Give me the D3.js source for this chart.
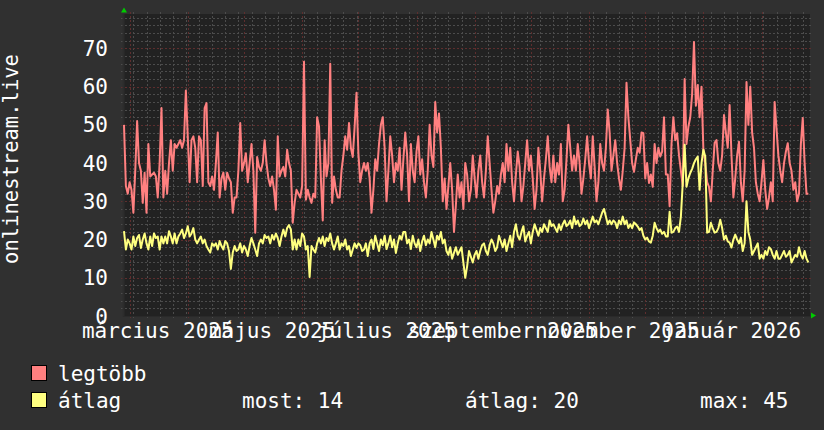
<!DOCTYPE html>
<html><head><meta charset="utf-8">
<script src="https://cdn.jsdelivr.net/npm/d3@7"></script>
<style>html,body{margin:0;padding:0;background:#303030;}svg{display:block;}text{font-family:"DejaVu Sans Mono",monospace;}</style>
</head><body><svg id="chart" width="824" height="430"></svg>
<script>
// ---- data (one value per day, starting at startDate) ----
const startDate = [2025, 1, 26];
const endDate = [2026, 1, 26];
const legtobb = [
50,34,32,35,33,27,38,51,40,38,
29.6,37.5,27,45,36.5,37,37.5,36.5,31,40,
54.4,31,38,32,40,46,38,45,44,45,
46,44,46,59,47,35,46,47,44,35,
47,46,34,54.4,55.7,35,34,36.5,33,40,
48,31,36,37.5,33,37.5,36,35,27,31,
31,38,50.5,38,40,42.6,35,40,45,38,
21.8,41.6,39,38,40,46,40,36,34,36.5,
33,27.8,47,36.5,38,39,36.5,43.5,40,38,
24.4,29.6,33,32,31,34,66.5,30.4,33,31,
29.6,32,31,52,49.6,36,25,46,36.5,40,
66,29.6,36.5,33,31,31,38,42,47,43.5,
50.5,44,41.6,49.5,58.4,42.6,35,38,40,38,
40,36,27,33,41,38,45,50,52,44,
30,38,47,42,35,40,38,44,33,41,
48,42,30,45,38,35,43,47,37,41,
35,31,38,50,42,39,56,48,53,44,
30,36,28,34,40,33,22,29,37,31,
35,28,40,37,30,33,42,36,31,38,
42,35,31,38,47,40,33,27,30,34,
32,37,40,35,45,38,44,35,30,37,
43,39,30,34,40,46,38,42,36,28,
33,44,38,30,36,41,47,39,35,42,
35,40,37,45,30,33,41,50,44,38,
42,38,45,40,32,36,41,47,40,36,
47,39,30,35,45,40,38,44,54,48,
38,42,46,40,36,33,38,44,61,52,
46,40,37.7,41,44,42.7,48,47.8,36,40,
34.8,37,33.8,45,40,44,41.7,43,52,37,
37,28.7,45,52,46,47.8,42,38,34,62,
45,49.5,52,58,71.7,55,60.4,52,60,43.5,
40,35,33.8,30,38,45.3,46,40,38,42,
52.6,48,44,55.2,42,31,36,42,45.6,35,
30,38,61.2,50,60,48,44,35,32,30,
35,40.8,33,28,31,35,30,56,49,42,
38,35,40,43,45.2,40,38,33,35,30,
32,45,51.8,40,32,32
];
const atlag = [
22.2,17.4,20,19,17.4,20.8,18.3,20.4,21.2,17.8,
20,21.6,19,17.4,20.8,18.3,21.6,20.4,20.8,17.4,
20.8,19,20.8,19,22.2,20.8,19,21.6,19,20.8,
21.6,22.6,20.4,21.6,23.5,20.8,21.6,23,20,19,
20,20.8,19,20,18.3,17.4,16.6,19,18.3,19,
17.4,19.6,18.3,17.4,19.6,19,17,12.3,16.6,18.3,
17,17.4,19,16.6,18.3,17.4,15.7,18.3,20.4,19,
17.4,15.7,19,20,19,21.2,20.4,20.8,19,21.2,
20,21.6,20.4,18.3,20.8,22.6,20.8,23,23.8,22.6,
17.4,20,17.4,20,18.3,21.6,20.8,17.4,18.3,10.2,
18.3,17.4,16.6,19,20.4,19,20.8,18.3,20.4,19.6,
21.6,19,17.4,19,20.8,17.4,19,18.3,20,17.4,
18.3,15.7,17.4,19,17.8,19,18.5,17,17.4,19,
15.7,19,20,17.5,21,19,17,20,18.5,21,
17.5,19,21,18,20,16.5,19,21,20,22,
22,19,20,17.5,21,19,18,20,17,19.5,
21,18.5,20,19,22,20,18,21,20,22,
19,20,17,16,18,15,16.5,18,16,17,
18,14,10,13,17,15.5,14,16,17,15,
17,18.5,19,17,16,18.5,20,19,17,18,
21,19.5,18,20,17,19,21,18,22,24,
21,20,22,23.5,19.5,21,22,19,22,24,
22.5,21,23,22,24,23,22,25,23.5,24,
23,22,24,22.5,24,25,23.5,24,25,23,
26,24,25,23.5,24,25.5,24,25,23,24.5,
26,24.5,25,24,25.5,27,28,26,24,25,
24,25,24.5,23,25,24,26,24,25,23,
24,23,24.5,24,23.4,22.5,23,21,20,20.5,
19.5,19.2,21,24.4,23,22,22.6,21.5,22,20.8,
20.8,27.3,21.8,22,23,23.4,22,26,34.8,44.8,
33.8,36,37.4,38.5,40,41,41.7,33,40,43.5,
41.7,21.8,22,24.4,23,21.8,22,23,25.2,23,
20,21,19.5,19.2,17.9,20,21.3,20,19,20.5,
17,19,30,22,20,16,17,18,19,15,
16,15,17,16,18,17.5,16,15,17,15,
15,16,17,15.5,16,17,14,15,16,15.5,
18,16,15,17,15,14
];
const seriesNames = ["legtöbb", "átlag"];
const yTicks = [0, 10, 20, 30, 40, 50, 60, 70];
const yMax = 79;
const monthLabels = ["március 2025", "május 2025", "július 2025", "szeptember 2025", "november 2025", "január 2026"];
const labelMonths = [[2025, 2], [2025, 4], [2025, 6], [2025, 8], [2025, 10], [2026, 0]];
const legendStats = [["most", 14], ["átlag", 20], ["max", 45]];
const yTitle = "onlinestream.live";

// ---- layout ----
const svg = d3.select("#chart");
const P = {l: 123, r: 810, t: 14, b: 316};
const colors = ["#ff8080", "#ffff80"];
const t0 = Date.UTC(...startDate), t1 = Date.UTC(...endDate);
const x = d3.scaleUtc().domain([t0, t1]).range([124, 124 + 365 * 1.875]);
const y = d3.scaleLinear().domain([0, yMax]).range([P.b, P.t]);
const dayMs = 86400000;

svg.append("rect").attr("width", 824).attr("height", 430).attr("fill", "#303030");
svg.append("rect").attr("x", P.l).attr("y", P.t).attr("width", P.r - P.l).attr("height", P.b - P.t).attr("fill", "#222222");

const grid = svg.append("g");
const minorCol = "#4c4c4c", majorCol = "#5e2e2e";
const hMinor = d3.range(2, yMax, 2).filter(v => v % 10 !== 0);
grid.selectAll(".hm").data(hMinor).enter().append("line")
  .attr("x1", P.l - 2).attr("x2", P.r + 2).attr("y1", d => Math.round(y(d)) + 0.5).attr("y2", d => Math.round(y(d)) + 0.5)
  .attr("stroke", minorCol).attr("stroke-dasharray", "2,2");
const weeks = d3.utcMonday.range(t0 - 3 * dayMs, t1 + 3 * dayMs).filter(d => x(d) > P.l && x(d) < P.r);
grid.selectAll(".vm").data(weeks).enter().append("line")
  .attr("x1", d => Math.round(x(d)) + 0.5).attr("x2", d => Math.round(x(d)) + 0.5).attr("y1", P.t - 2).attr("y2", P.b + 2)
  .attr("stroke", minorCol).attr("stroke-dasharray", "2,2");
grid.selectAll(".hM").data(yTicks.filter(v => v > 0)).enter().append("line")
  .attr("x1", P.l - 2).attr("x2", P.r + 2).attr("y1", d => Math.round(y(d)) + 0.5).attr("y2", d => Math.round(y(d)) + 0.5)
  .attr("stroke", majorCol).attr("stroke-dasharray", "2,2");
const months = d3.utcMonth.range(t0 - 3 * dayMs, t1 + 3 * dayMs).filter(d => x(d) > P.l && x(d) < P.r);
grid.selectAll(".vM").data(months).enter().append("line")
  .attr("x1", d => Math.round(x(d)) + 0.5).attr("x2", d => Math.round(x(d)) + 0.5).attr("y1", P.t - 2).attr("y2", P.b + 2)
  .attr("stroke", majorCol).attr("stroke-dasharray", "2,2");

svg.append("line").attr("x1", P.l + 0.5).attr("x2", P.l + 0.5).attr("y1", P.t).attr("y2", P.b + 1).attr("stroke", "#2c2c2c").attr("stroke-width", 2);
svg.append("line").attr("x1", P.l).attr("x2", P.r).attr("y1", P.b + 0.5).attr("y2", P.b + 0.5).attr("stroke", "#2a2a2a");

const line = d3.line().x((d, i) => x(t0 + i * dayMs)).y(d => y(d));
[legtobb, atlag].forEach((s, k) => {
  svg.append("path").datum(s).attr("d", line).attr("fill", "none")
    .attr("stroke", colors[k]).attr("stroke-width", 2).attr("stroke-linejoin", "round");
});

svg.append("path").attr("d", `M${P.l - 2},12.5 L${P.l + 4},12.5 L${P.l + 1},7.5 Z`).attr("fill", "#00cc00");
svg.append("path").attr("d", `M${P.r + 1},${P.b - 3.5} L${P.r + 1},${P.b + 2.5} L${P.r + 6},${P.b - 0.5} Z`).attr("fill", "#00cc00");

svg.selectAll(".yl").data(yTicks).enter().append("text")
  .attr("x", 108).attr("y", d => y(d) + 7.5).attr("text-anchor", "end")
  .attr("fill", "#ffffff").attr("font-size", 21).text(d => d);

svg.selectAll(".xl").data(monthLabels).enter().append("text")
  .attr("x", (d, i) => x(Date.UTC(labelMonths[i][0], labelMonths[i][1], 1) + 15 * dayMs))
  .attr("y", 338).attr("text-anchor", "middle").attr("fill", "#ffffff").attr("font-size", 21).text(d => d);

svg.append("text").attr("transform", "translate(18,159) rotate(-90)").attr("text-anchor", "middle")
  .attr("fill", "#ffffff").attr("font-size", 20.5).text(yTitle);

const legY = [381, 408];
seriesNames.forEach((n, k) => {
  svg.append("rect").attr("x", 31.5).attr("y", legY[k] - 15.5).attr("width", 15).attr("height", 15)
    .attr("fill", colors[k]).attr("stroke", "#000").attr("stroke-width", 1);
  svg.append("text").attr("x", 58).attr("y", legY[k]).attr("fill", "#ffffff").attr("font-size", 21).text(n);
});
const statX = [242, 465, 700];
legendStats.forEach((s, i) => {
  svg.append("text").attr("x", statX[i]).attr("y", legY[1]).attr("fill", "#ffffff").attr("font-size", 21)
    .text(`${s[0]}: ${s[1]}`);
});
</script></body></html>
